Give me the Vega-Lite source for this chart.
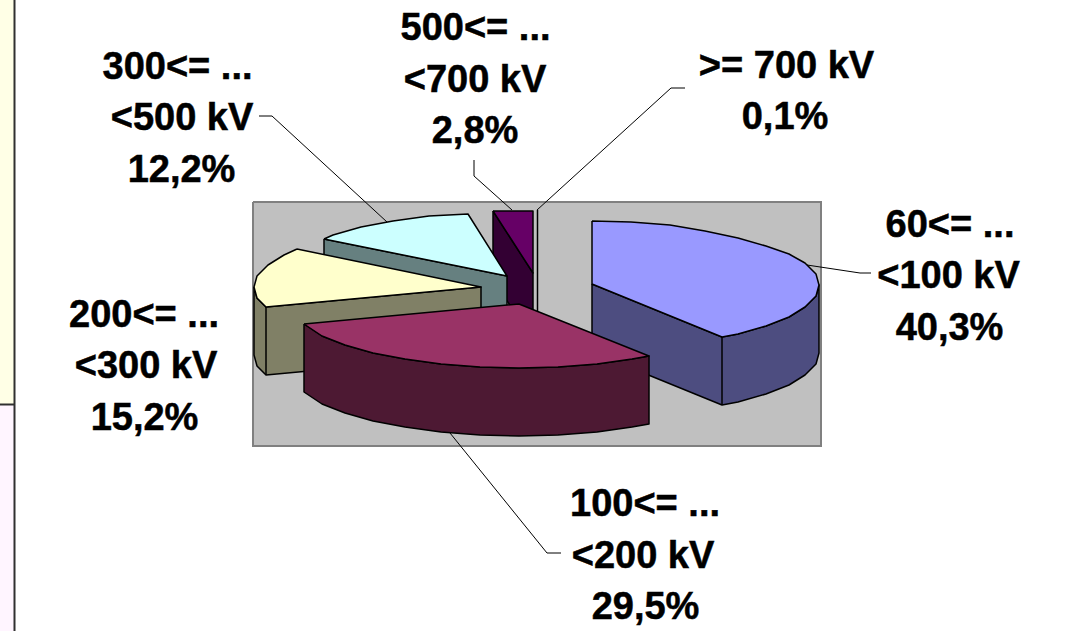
{
  "$schema": "https://vega.github.io/schema/vega-lite/v6.json",
  "width": 1071,
  "height": 631,
  "autosize": {"type": "none"},
  "padding": 0,
  "background": "white",
  "view": {"stroke": null},
  "resolve": {"scale": {"fill": "independent"}},
  "datasets": {
    "page": [
      {"part": "upper", "seq": 1, "x": 0, "y": 0},
      {"part": "upper", "seq": 2, "x": 14, "y": 0},
      {"part": "upper", "seq": 3, "x": 14, "y": 405},
      {"part": "upper", "seq": 4, "x": 0, "y": 405},
      {"part": "lower", "seq": 1, "x": 0, "y": 405},
      {"part": "lower", "seq": 2, "x": 14, "y": 405},
      {"part": "lower", "seq": 3, "x": 14, "y": 631},
      {"part": "lower", "seq": 4, "x": 0, "y": 631},
      {"part": "plot", "seq": 1, "x": 253, "y": 202},
      {"part": "plot", "seq": 2, "x": 821, "y": 202},
      {"part": "plot", "seq": 3, "x": 821, "y": 446},
      {"part": "plot", "seq": 4, "x": 253, "y": 446},
      {"part": "plot", "seq": 5, "x": 253, "y": 202}
    ],
    "rules": [
      {"rule": "v", "seq": 1, "x": 14.5, "y": 0},
      {"rule": "v", "seq": 2, "x": 14.5, "y": 631},
      {"rule": "h", "seq": 1, "x": 0, "y": 404.5},
      {"rule": "h", "seq": 2, "x": 14, "y": 404.5}
    ],
    "slices": [
      {"face": "v500 side", "seq": 1, "x": 493, "y": 211},
      {"face": "v500 side", "seq": 2, "x": 533, "y": 273},
      {"face": "v500 side", "seq": 3, "x": 533, "y": 341},
      {"face": "v500 side", "seq": 4, "x": 493, "y": 279},
      {"face": "v500 side", "seq": 5, "x": 493, "y": 211},
      {"face": "v500 top", "seq": 1, "x": 493, "y": 211},
      {"face": "v500 top", "seq": 2, "x": 533, "y": 211},
      {"face": "v500 top", "seq": 3, "x": 533, "y": 273},
      {"face": "v500 top", "seq": 4, "x": 493, "y": 211},

      {"face": "v700 top", "seq": 1, "x": 537.5, "y": 210},
      {"face": "v700 top", "seq": 2, "x": 537.5, "y": 345},

      {"face": "v300 side", "seq": 1, "x": 324, "y": 239},
      {"face": "v300 side", "seq": 2, "x": 507, "y": 276},
      {"face": "v300 side", "seq": 3, "x": 507, "y": 344},
      {"face": "v300 side", "seq": 4, "x": 324, "y": 307},
      {"face": "v300 side", "seq": 5, "x": 324, "y": 239},
      {"face": "v300 top", "seq": 1, "x": 324, "y": 239},
      {"face": "v300 top", "seq": 2, "x": 333, "y": 235},
      {"face": "v300 top", "seq": 3, "x": 361, "y": 227},
      {"face": "v300 top", "seq": 4, "x": 393, "y": 221},
      {"face": "v300 top", "seq": 5, "x": 429, "y": 216},
      {"face": "v300 top", "seq": 6, "x": 468, "y": 214},
      {"face": "v300 top", "seq": 7, "x": 507, "y": 276},
      {"face": "v300 top", "seq": 8, "x": 324, "y": 239},

      {"face": "v200 side", "seq": 1, "x": 254, "y": 287},
      {"face": "v200 side", "seq": 2, "x": 257, "y": 298},
      {"face": "v200 side", "seq": 3, "x": 266, "y": 307},
      {"face": "v200 side", "seq": 4, "x": 481, "y": 287},
      {"face": "v200 side", "seq": 5, "x": 481, "y": 355},
      {"face": "v200 side", "seq": 6, "x": 266, "y": 375},
      {"face": "v200 side", "seq": 7, "x": 257, "y": 366},
      {"face": "v200 side", "seq": 8, "x": 254, "y": 355},
      {"face": "v200 side", "seq": 9, "x": 254, "y": 287},
      {"face": "v200 edge", "seq": 1, "x": 266, "y": 307},
      {"face": "v200 edge", "seq": 2, "x": 266, "y": 375},
      {"face": "v200 top", "seq": 1, "x": 297, "y": 249},
      {"face": "v200 top", "seq": 2, "x": 481, "y": 287},
      {"face": "v200 top", "seq": 3, "x": 266, "y": 307},
      {"face": "v200 top", "seq": 4, "x": 257, "y": 298},
      {"face": "v200 top", "seq": 5, "x": 254, "y": 287},
      {"face": "v200 top", "seq": 6, "x": 257, "y": 276},
      {"face": "v200 top", "seq": 7, "x": 268, "y": 265},
      {"face": "v200 top", "seq": 8, "x": 284, "y": 255},
      {"face": "v200 top", "seq": 9, "x": 297, "y": 249},

      {"face": "v60 side", "seq": 1, "x": 592, "y": 284},
      {"face": "v60 side", "seq": 2, "x": 722, "y": 337},
      {"face": "v60 side", "seq": 3, "x": 738, "y": 334},
      {"face": "v60 side", "seq": 4, "x": 766, "y": 326},
      {"face": "v60 side", "seq": 5, "x": 789, "y": 317},
      {"face": "v60 side", "seq": 6, "x": 805, "y": 307},
      {"face": "v60 side", "seq": 7, "x": 816, "y": 296},
      {"face": "v60 side", "seq": 8, "x": 819, "y": 285},
      {"face": "v60 side", "seq": 9, "x": 819, "y": 353},
      {"face": "v60 side", "seq": 10, "x": 816, "y": 364},
      {"face": "v60 side", "seq": 11, "x": 805, "y": 375},
      {"face": "v60 side", "seq": 12, "x": 789, "y": 385},
      {"face": "v60 side", "seq": 13, "x": 766, "y": 394},
      {"face": "v60 side", "seq": 14, "x": 738, "y": 402},
      {"face": "v60 side", "seq": 15, "x": 722, "y": 405},
      {"face": "v60 side", "seq": 16, "x": 592, "y": 352},
      {"face": "v60 side", "seq": 17, "x": 592, "y": 284},
      {"face": "v60 edge", "seq": 1, "x": 722, "y": 337},
      {"face": "v60 edge", "seq": 2, "x": 722, "y": 405},
      {"face": "v60 top", "seq": 1, "x": 592, "y": 221},
      {"face": "v60 top", "seq": 2, "x": 631, "y": 222},
      {"face": "v60 top", "seq": 3, "x": 670, "y": 225},
      {"face": "v60 top", "seq": 4, "x": 705, "y": 231},
      {"face": "v60 top", "seq": 5, "x": 738, "y": 238},
      {"face": "v60 top", "seq": 6, "x": 766, "y": 246},
      {"face": "v60 top", "seq": 7, "x": 789, "y": 254},
      {"face": "v60 top", "seq": 8, "x": 805, "y": 263},
      {"face": "v60 top", "seq": 9, "x": 816, "y": 274},
      {"face": "v60 top", "seq": 10, "x": 819, "y": 285},
      {"face": "v60 top", "seq": 11, "x": 816, "y": 296},
      {"face": "v60 top", "seq": 12, "x": 805, "y": 307},
      {"face": "v60 top", "seq": 13, "x": 789, "y": 317},
      {"face": "v60 top", "seq": 14, "x": 766, "y": 326},
      {"face": "v60 top", "seq": 15, "x": 738, "y": 334},
      {"face": "v60 top", "seq": 16, "x": 722, "y": 337},
      {"face": "v60 top", "seq": 17, "x": 592, "y": 284},
      {"face": "v60 top", "seq": 18, "x": 592, "y": 221},

      {"face": "v100 side", "seq": 1, "x": 304, "y": 324},
      {"face": "v100 side", "seq": 2, "x": 322, "y": 336},
      {"face": "v100 side", "seq": 3, "x": 345, "y": 345},
      {"face": "v100 side", "seq": 4, "x": 373, "y": 353},
      {"face": "v100 side", "seq": 5, "x": 405, "y": 359},
      {"face": "v100 side", "seq": 6, "x": 441, "y": 364},
      {"face": "v100 side", "seq": 7, "x": 480, "y": 367},
      {"face": "v100 side", "seq": 8, "x": 519, "y": 368},
      {"face": "v100 side", "seq": 9, "x": 558, "y": 367},
      {"face": "v100 side", "seq": 10, "x": 597, "y": 364},
      {"face": "v100 side", "seq": 11, "x": 632, "y": 359},
      {"face": "v100 side", "seq": 12, "x": 649, "y": 356},
      {"face": "v100 side", "seq": 13, "x": 649, "y": 424},
      {"face": "v100 side", "seq": 14, "x": 632, "y": 427},
      {"face": "v100 side", "seq": 15, "x": 597, "y": 432},
      {"face": "v100 side", "seq": 16, "x": 558, "y": 435},
      {"face": "v100 side", "seq": 17, "x": 519, "y": 436},
      {"face": "v100 side", "seq": 18, "x": 480, "y": 435},
      {"face": "v100 side", "seq": 19, "x": 441, "y": 432},
      {"face": "v100 side", "seq": 20, "x": 405, "y": 427},
      {"face": "v100 side", "seq": 21, "x": 373, "y": 421},
      {"face": "v100 side", "seq": 22, "x": 345, "y": 413},
      {"face": "v100 side", "seq": 23, "x": 322, "y": 404},
      {"face": "v100 side", "seq": 24, "x": 304, "y": 392},
      {"face": "v100 side", "seq": 25, "x": 304, "y": 324},
      {"face": "v100 top", "seq": 1, "x": 304, "y": 324},
      {"face": "v100 top", "seq": 2, "x": 519, "y": 304},
      {"face": "v100 top", "seq": 3, "x": 649, "y": 356},
      {"face": "v100 top", "seq": 4, "x": 632, "y": 359},
      {"face": "v100 top", "seq": 5, "x": 597, "y": 364},
      {"face": "v100 top", "seq": 6, "x": 558, "y": 367},
      {"face": "v100 top", "seq": 7, "x": 519, "y": 368},
      {"face": "v100 top", "seq": 8, "x": 480, "y": 367},
      {"face": "v100 top", "seq": 9, "x": 441, "y": 364},
      {"face": "v100 top", "seq": 10, "x": 405, "y": 359},
      {"face": "v100 top", "seq": 11, "x": 373, "y": 353},
      {"face": "v100 top", "seq": 12, "x": 345, "y": 345},
      {"face": "v100 top", "seq": 13, "x": 322, "y": 336},
      {"face": "v100 top", "seq": 14, "x": 304, "y": 324}
    ],
    "leaders": [
      {"to": "60", "seq": 1, "x": 807, "y": 265},
      {"to": "60", "seq": 2, "x": 860, "y": 273},
      {"to": "60", "seq": 3, "x": 871, "y": 273},
      {"to": "100", "seq": 1, "x": 450, "y": 433},
      {"to": "100", "seq": 2, "x": 547, "y": 553},
      {"to": "100", "seq": 3, "x": 561, "y": 553},
      {"to": "300", "seq": 1, "x": 387, "y": 222},
      {"to": "300", "seq": 2, "x": 272, "y": 116},
      {"to": "300", "seq": 3, "x": 259, "y": 116},
      {"to": "500", "seq": 1, "x": 512, "y": 210},
      {"to": "500", "seq": 2, "x": 474, "y": 176},
      {"to": "500", "seq": 3, "x": 474, "y": 160},
      {"to": "700", "seq": 1, "x": 537, "y": 210},
      {"to": "700", "seq": 2, "x": 671, "y": 88},
      {"to": "700", "seq": 3, "x": 685, "y": 88}
    ],
    "labels": [
      {"line": "500<= ...", "x": 475.5, "y": 40},
      {"line": "<700 kV", "x": 475, "y": 92},
      {"line": "2,8%", "x": 475, "y": 143},
      {"line": ">= 700 kV", "x": 786.5, "y": 78},
      {"line": "0,1%", "x": 785, "y": 129},
      {"line": "300<= ...", "x": 177.5, "y": 78.5},
      {"line": "<500 kV", "x": 182, "y": 130},
      {"line": "12,2%", "x": 181.5, "y": 181.5},
      {"line": "60<= ...", "x": 950, "y": 237},
      {"line": "<100 kV", "x": 948.5, "y": 288},
      {"line": "40,3%", "x": 949.5, "y": 340},
      {"line": "200<= ...", "x": 144, "y": 326.5},
      {"line": "<300 kV", "x": 146, "y": 378},
      {"line": "15,2%", "x": 144.5, "y": 430},
      {"line": "100<= ...", "x": 645, "y": 515.5},
      {"line": "<200 kV", "x": 643, "y": 567.5},
      {"line": "29,5%", "x": 645.5, "y": 619}
    ]
  },
  "encoding": {
    "x": {"field": "x", "type": "quantitative", "axis": null, "scale": {"domain": [0, 1071], "nice": false, "zero": false}},
    "y": {"field": "y", "type": "quantitative", "axis": null, "scale": {"domain": [631, 0], "nice": false, "zero": false}}
  },
  "layer": [
    {
      "data": {"name": "page"},
      "transform": [{"filter": "datum.part !== 'plot'"}],
      "mark": {"type": "line", "strokeWidth": 0},
      "encoding": {
        "order": {"field": "seq"},
        "fill": {"field": "part", "type": "nominal", "legend": null, "scale": {"domain": ["upper", "lower"], "range": ["#ffffe6", "#fff5ff"]}}
      }
    },
    {
      "data": {"name": "page"},
      "transform": [{"filter": "datum.part === 'plot'"}],
      "mark": {"type": "line", "stroke": "#808080", "strokeWidth": 2},
      "encoding": {
        "order": {"field": "seq"},
        "fill": {"field": "part", "type": "nominal", "legend": null, "scale": {"domain": ["plot"], "range": ["#c0c0c0"]}}
      }
    },
    {
      "data": {"name": "rules"},
      "mark": {"type": "line", "stroke": "#303030", "strokeWidth": 2},
      "encoding": {
        "order": {"field": "seq"},
        "detail": {"field": "rule"}
      }
    },
    {
      "data": {"name": "slices"},
      "mark": {"type": "line", "stroke": "black", "strokeWidth": 1.5, "strokeJoin": "round"},
      "encoding": {
        "order": {"field": "seq"},
        "fill": {
          "field": "face",
          "type": "nominal",
          "legend": null,
          "scale": {
            "domain": ["v500 side", "v500 top", "v700 top", "v300 side", "v300 top", "v200 side", "v200 edge", "v200 top", "v60 side", "v60 edge", "v60 top", "v100 side", "v100 top"],
            "range": ["#330033", "#660066", "#c0c0c0", "#668080", "#ccffff", "#808066", "#808066", "#ffffcc", "#4d4d80", "#4d4d80", "#9999ff", "#4d1933", "#993366"]
          }
        }
      }
    },
    {
      "data": {"name": "leaders"},
      "mark": {"type": "line", "stroke": "black", "strokeWidth": 1},
      "encoding": {
        "order": {"field": "seq"},
        "detail": {"field": "to"}
      }
    },
    {
      "data": {"name": "labels"},
      "mark": {"type": "text", "font": "Liberation Sans", "fontWeight": "bold", "fontSize": 38, "align": "center", "baseline": "alphabetic", "color": "black", "stroke": "black", "strokeWidth": 0.5},
      "encoding": {
        "text": {"field": "line"}
      }
    }
  ]
}
